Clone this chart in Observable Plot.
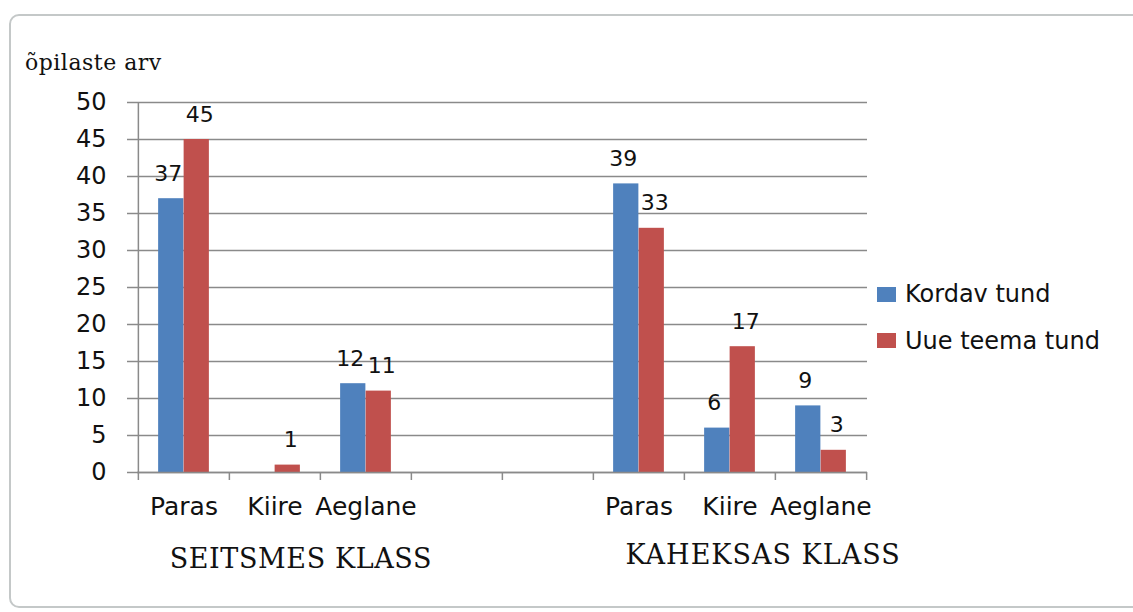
<!DOCTYPE html>
<html>
<head>
<meta charset="utf-8">
<script src="https://cdn.jsdelivr.net/npm/d3@7"></script>
<script src="https://cdn.jsdelivr.net/npm/@observablehq/plot@0.6"></script>
<style>
  html, body { margin: 0; padding: 0; background: #fff; }
  #wrap { position: relative; width: 1133px; height: 612px; overflow: hidden; }
  #border { position: absolute; left: 9px; top: 14px; width: 1140px; height: 594px;
            border: 2px solid #c4c8c8; border-radius: 10px; box-sizing: border-box; }
  #chart { position: absolute; left: 0; top: 0; }
  .serif { position: absolute; font-family: "DejaVu Serif", serif; color: #111; line-height: 1; white-space: nowrap; }
  .legend { position: absolute; font-family: "DejaVu Sans", sans-serif; font-size: 24px; line-height: 1; color: #111; white-space: nowrap; }
  .sw { position: absolute; width: 19px; height: 15px; }
</style>
</head>
<body>
<div id="wrap">
  <div id="border"></div>
  <div id="chart"></div>
</div>
<script>
// ---- data ----
const groups = ["SEITSMES KLASS", "KAHEKSAS KLASS"];
const categories = ["Paras", "Kiire", "Aeglane"];
const series = ["Kordav tund", "Uue teema tund"];
const colors = ["#4F81BD", "#C0504D"];
const kordav7 = [37, 0, 12];
const uue7 = [45, 1, 11];
const kordav8 = [39, 6, 9];
const uue8 = [33, 17, 3];
const yTicks = [0, 5, 10, 15, 20, 25, 30, 35, 40, 45, 50];
const yLabel = "õpilaste arv";

// slots: group1 categories, two empty slots, group2 categories
const slots = [
  ...categories.map(c => "7|" + c),
  "gap|1", "gap|2",
  ...categories.map(c => "8|" + c)
];
const slotLabel = s => s.startsWith("gap") ? "" : s.split("|")[1];

const rows = [];
categories.forEach((c, i) => {
  rows.push({slot: "7|" + c, series: series[0], value: kordav7[i]});
  rows.push({slot: "7|" + c, series: series[1], value: uue7[i]});
  rows.push({slot: "8|" + c, series: series[0], value: kordav8[i]});
  rows.push({slot: "8|" + c, series: series[1], value: uue8[i]});
});
const s0 = rows.filter(d => d.series === series[0]);
const s1 = rows.filter(d => d.series === series[1]);

// ---- layout ----
const W = 1133, H = 612;
const mL = 137, mR = 266, mT = 102, mB = 140;
const step = (W - mL - mR) / slots.length;
const half = step / 2;
const barW = 25.5;
const grid = "#8a8a8a";

const plot = Plot.plot({
  width: W, height: H,
  marginLeft: mL, marginRight: mR, marginTop: mT, marginBottom: mB,
  style: {background: "transparent", overflow: "visible", fontFamily: "DejaVu Sans, sans-serif", color: "#111"},
  x: {type: "band", domain: slots, padding: 0, label: null},
  y: {domain: [0, 50], label: null},
  color: {domain: series, range: colors},
  marks: [
    Plot.gridY({ticks: yTicks, stroke: grid, strokeOpacity: 1, strokeWidth: 1.5}),
    Plot.axisY({ticks: yTicks, tickSize: 10, tickPadding: 21, fontSize: 24, stroke: grid, strokeWidth: 1.5, label: null}),
    Plot.barY(s0, {x: "slot", y: "value", fill: "series", insetLeft: half - barW, insetRight: half}),
    Plot.barY(s1, {x: "slot", y: "value", fill: "series", insetLeft: half, insetRight: half - barW}),
    Plot.ruleX([slots[0]], {x: d => d, dx: -half, y1: 0, y2: 50, stroke: grid, strokeWidth: 1.5}),
    Plot.ruleY([0], {stroke: grid, strokeWidth: 1.5}),
    Plot.axisX({ticks: slots, tickSize: 8, dx: -half, tickFormat: () => "", stroke: grid, strokeWidth: 1.5, label: null}),
    Plot.axisX({ticks: [slots[slots.length - 1]], tickSize: 8, dx: half, tickFormat: () => "", stroke: grid, strokeWidth: 1.5, label: null}),
    Plot.axisX({ticks: slots, tickSize: 0, tickPadding: 25, tickFormat: slotLabel, fontSize: 25, label: null}),
    Plot.text(s0.filter(d => d.value > 0), {x: "slot", y: "value", text: d => String(d.value), dx: -barW / 2 - 3, dy: -25, fontSize: 22, fill: "#111"}),
    Plot.text(s1.filter(d => d.value > 0), {x: "slot", y: "value", text: d => String(d.value), dx: barW / 2 + 3, dy: -25, fontSize: 22, fill: "#111"})
  ]
});
document.getElementById("chart").appendChild(plot);

// ---- annotations ----
const wrap = document.getElementById("wrap");
function addDiv(cls, text, css) {
  const d = document.createElement("div");
  d.className = cls;
  if (text != null) d.textContent = text;
  Object.assign(d.style, css);
  wrap.appendChild(d);
  return d;
}
addDiv("serif", yLabel, {left: "25px", top: "52px", fontSize: "22px", letterSpacing: "0.5px"});
// group labels centered below each group
const xs = d3.scaleBand().domain(slots).range([mL, W - mR]);
const g1c = (xs(slots[0]) + xs(slots[2]) + step) / 2 + 27;
const g2c = (xs(slots[5]) + xs(slots[7]) + step) / 2 + 33;
addDiv("serif", groups[0], {left: g1c + "px", top: "545px", fontSize: "27px", letterSpacing: "0.6px", transform: "translateX(-50%)"});
addDiv("serif", groups[1], {left: g2c + "px", top: "541px", fontSize: "27px", letterSpacing: "1px", transform: "translateX(-50%)"});
// legend
series.forEach((s, i) => {
  addDiv("sw", null, {left: "877px", top: (287 + i * 46) + "px", background: colors[i]});
  addDiv("legend", s, {left: "905px", top: (282 + i * 47) + "px"});
});
</script>
</body>
</html>
